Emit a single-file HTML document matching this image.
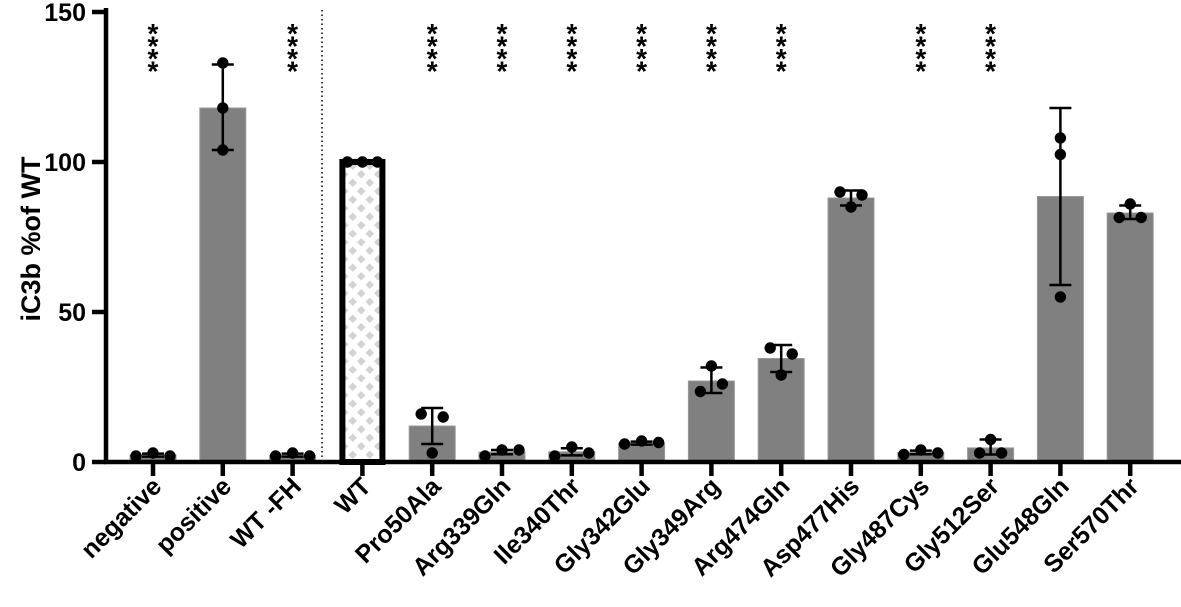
<!DOCTYPE html>
<html><head><meta charset="utf-8"><style>
html,body{margin:0;padding:0;background:#fff}
svg text{font-family:"Liberation Sans",Arial,sans-serif}
</style></head><body>
<svg id="chart" width="1181" height="602" viewBox="0 0 1181 602" xmlns="http://www.w3.org/2000/svg">
<defs>
<pattern id="diamonds" x="0" y="0" width="17" height="17" patternUnits="userSpaceOnUse">
<rect width="17" height="17" fill="#fff"/>
<polygon points="4.25,0 8.5,4.25 4.25,8.5 0,4.25" fill="#d3d3d3"/>
<polygon points="12.75,8.5 17,12.75 12.75,17 8.5,12.75" fill="#d3d3d3"/>
</pattern>
</defs>
<g id="plot"></g>
</svg>
<script>
const categories = ["negative","positive","WT -FH","WT","Pro50Ala","Arg339Gln","Ile340Thr","Gly342Glu","Gly349Arg","Arg474Gln","Asp477His","Gly487Cys","Gly512Ser","Glu548Gln","Ser570Thr"];
const means = [2.3,118,2.2,100,12,3.3,3.4,6.3,27,34.5,88,3.2,4.7,88.5,83];
const sdLow = [1.8,104,1.8,100,6,2.6,2.2,5.8,23,30,85.5,2.6,2.5,59,81];
const sdHigh = [2.8,132.5,2.8,100,18,4,4.6,6.8,31.5,39,90.5,3.8,7.5,118,85.5];
const pointsA = [2,133,2,100,16,2,2,6,23.5,38,90,2.5,3,108,81.5];
const pointsB = [3,118,3,100,3,4,5,7,32,29,85,4,7.5,102.5,86];
const pointsC = [2,104,2,100,15,4,3,6.5,26,36,89,3,3,55,81.5];
const stars = [1,0,1,0,1,1,1,1,1,1,0,1,1,0,0];
const yTicks = [0,50,100,150];
// horizontal jitter of the three replicate dots (styling, px)
const jitterA = [-17,0,-17,-15,-11,-17,-17,-17,-11,-11,-11,-17,-11,0,-11];
const jitterB = [0,0,0,0,0,0,0,0,0,0,0,0,0,0,0];
const jitterC = [17,0,17,15,11,17,17,17,11,11,11,17,11,0,11];

const svg = document.getElementById('plot');
const NS = 'http://www.w3.org/2000/svg';
function xPos(i){ return 153 + i*69.8; }
function yPos(v){ return 462 - v*3.0; }
function mk(tag, attrs, parent){
  const el = document.createElementNS(NS, tag);
  for (const k in attrs) el.setAttribute(k, attrs[k]);
  (parent||svg).appendChild(el);
  return el;
}
const barW = 46;
categories.forEach((c,i)=>{
  const x = xPos(i), top = yPos(means[i]);
  let r;
  if (c === 'WT') {
    r = mk('rect',{x:x-barW/2+3,y:top,width:barW-6,height:462-top,fill:'url(#diamonds)',stroke:'#000','stroke-width':6});
  } else {
    r = mk('rect',{x:x-barW/2,y:top,width:barW,height:462-top,fill:'#808080',stroke:'#999','stroke-width':1});
  }
  
  
});
categories.forEach((c,i)=>{
  if (sdHigh[i]-sdLow[i] < 0.1) return;
  const x = xPos(i);
  const g = mk('g',{stroke:'#000','stroke-width':2.5});
  
  
  mk('line',{x1:x,x2:x,y1:yPos(sdLow[i]),y2:yPos(sdHigh[i])},g);
  mk('line',{x1:x-11,x2:x+11,y1:yPos(sdLow[i]),y2:yPos(sdLow[i])},g);
  mk('line',{x1:x-11,x2:x+11,y1:yPos(sdHigh[i]),y2:yPos(sdHigh[i])},g);
});
categories.forEach((c,i)=>{
  const x = xPos(i);
  const pts = [pointsA[i],pointsB[i],pointsC[i]];
  const offs = [jitterA[i],jitterB[i],jitterC[i]];
  for (let k=0;k<3;k++){
    const d = mk('circle',{cx:x+offs[k],cy:yPos(pts[k]),r:5.7,fill:'#000'});
    
    
  }
});
categories.forEach((c,i)=>{
  if (!stars[i]) return;
  const t = mk('text',{'font-size':28,'font-weight':'bold','text-anchor':'middle'});
  
  
  for (let k=0;k<4;k++){
    const ts = mk('tspan',{x:xPos(i),y:43+k*12.5},t);
    ts.textContent='*';
  }
});
const dv = mk('line',{x1:322,x2:322,y1:10,y2:462,stroke:'#000','stroke-width':1.5,'stroke-dasharray':'1.5,3'});


const ya = mk('line',{x1:106,x2:106,y1:8,y2:464,stroke:'#000','stroke-width':4.5});


yTicks.forEach(v=>{
  const tk = mk('line',{x1:92,x2:106,y1:yPos(v),y2:yPos(v),stroke:'#000','stroke-width':4.5});
  
  
  const lb = mk('text',{x:86,y:yPos(v)+9,'font-size':25,'font-weight':'bold','text-anchor':'end'});
  lb.textContent = v;
  
  
});
const xa = mk('line',{x1:104,x2:1181,y1:462,y2:462,stroke:'#000','stroke-width':4.5});


categories.forEach((c,i)=>{
  const x = xPos(i);
  const tk = mk('line',{x1:x,x2:x,y1:462,y2:476,stroke:'#000','stroke-width':4.5});
  
  
  const lb = mk('text',{transform:`translate(${x+10},${488}) rotate(-45)`,'font-size':25,'font-weight':'bold','text-anchor':'end'});
  lb.textContent = c;
  
  
});
const yt = mk('text',{transform:'translate(40,239) rotate(-90)','font-size':27,'font-weight':'bold','text-anchor':'middle'});
yt.textContent = 'iC3b %of WT';


</script>
</body></html>
